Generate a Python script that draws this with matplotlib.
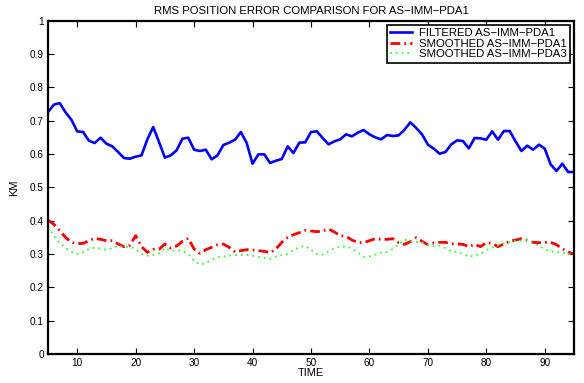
import matplotlib
matplotlib.use("Agg")
import matplotlib.pyplot as plt
import numpy as np

time = list(range(5, 96))

filtered_pda1 = [
    0.726, 0.748, 0.753, 0.725, 0.703, 0.668, 0.666, 0.640, 0.633, 0.649,
    0.631, 0.623, 0.606, 0.588, 0.586, 0.592, 0.596, 0.644, 0.681, 0.636,
    0.589, 0.596, 0.611, 0.646, 0.649, 0.613, 0.609, 0.613, 0.584, 0.596,
    0.627, 0.634, 0.643, 0.666, 0.633, 0.571, 0.599, 0.599, 0.573, 0.580,
    0.585, 0.623, 0.603, 0.634, 0.635, 0.666, 0.668, 0.648, 0.629, 0.638,
    0.644, 0.659, 0.653, 0.664, 0.672, 0.659, 0.650, 0.644, 0.657, 0.654,
    0.656, 0.673, 0.695, 0.678, 0.659, 0.628, 0.616, 0.601, 0.606, 0.629,
    0.641, 0.639, 0.617, 0.648, 0.647, 0.643, 0.668, 0.643, 0.669, 0.669,
    0.638, 0.609, 0.625, 0.613, 0.628, 0.616, 0.569, 0.549, 0.571, 0.546,
    0.546]

smoothed_pda1 = [
    0.402, 0.389, 0.370, 0.350, 0.335, 0.331, 0.332, 0.340, 0.347, 0.344,
    0.340, 0.340, 0.330, 0.322, 0.326, 0.355, 0.322, 0.305, 0.314, 0.314,
    0.330, 0.318, 0.324, 0.338, 0.347, 0.315, 0.302, 0.313, 0.320, 0.328,
    0.330, 0.320, 0.306, 0.310, 0.313, 0.312, 0.310, 0.308, 0.304, 0.315,
    0.335, 0.350, 0.358, 0.364, 0.371, 0.369, 0.367, 0.369, 0.375, 0.366,
    0.355, 0.353, 0.342, 0.335, 0.334, 0.340, 0.346, 0.344, 0.344, 0.346,
    0.334, 0.329, 0.337, 0.349, 0.338, 0.328, 0.333, 0.335, 0.335, 0.331,
    0.330, 0.329, 0.322, 0.329, 0.322, 0.334, 0.332, 0.322, 0.330, 0.338,
    0.342, 0.346, 0.341, 0.335, 0.334, 0.335, 0.335, 0.328, 0.316, 0.306,
    0.300]

smoothed_pda3 = [
    0.382, 0.355, 0.332, 0.318, 0.307, 0.300, 0.305, 0.315, 0.319, 0.317,
    0.312, 0.318, 0.325, 0.321, 0.322, 0.315, 0.300, 0.295, 0.297, 0.302,
    0.318, 0.309, 0.311, 0.309, 0.300, 0.280, 0.268, 0.273, 0.283, 0.290,
    0.292, 0.295, 0.297, 0.297, 0.297, 0.295, 0.292, 0.288, 0.285, 0.292,
    0.297, 0.301, 0.312, 0.320, 0.325, 0.312, 0.300, 0.298, 0.308, 0.317,
    0.322, 0.322, 0.317, 0.305, 0.292, 0.293, 0.298, 0.304, 0.306, 0.315,
    0.330, 0.343, 0.338, 0.336, 0.335, 0.327, 0.323, 0.325, 0.318, 0.308,
    0.307, 0.300, 0.292, 0.296, 0.300, 0.312, 0.319, 0.326, 0.332, 0.336,
    0.339, 0.340, 0.342, 0.333, 0.325, 0.314, 0.308, 0.306, 0.305, 0.300,
    0.298]

series_labels = ["FILTERED AS\u2212IMM\u2212PDA1", "SMOOTHED AS\u2212IMM\u2212PDA1",
                 "SMOOTHED AS\u2212IMM\u2212PDA3"]
title = "RMS POSITION ERROR COMPARISON FOR AS\u2212IMM\u2212PDA1"
xticks = [10, 20, 30, 40, 50, 60, 70, 80, 90]
yticks = [0, 0.1, 0.2, 0.3, 0.4, 0.5, 0.6, 0.7, 0.8, 0.9, 1]
ytick_labels = ["0", "0.1", "0.2", "0.3", "0.4", "0.5", "0.6", "0.7", "0.8", "0.9", "1"]

plt.rcParams['font.family'] = ['Liberation Sans', 'DejaVu Sans']

fig = plt.figure(figsize=(5.84, 3.83), dpi=100)
ax = fig.add_axes([48/584, 1-354/383, (574-48)/584, (354-20.7)/383])

ax.plot(time, filtered_pda1, color='#0000ff', lw=1.9, label=series_labels[0])
ax.plot(time, smoothed_pda1, color='#ff0000', lw=2.0, linestyle=(0, (3.5, 1.5, 0.6, 1.5)),
        label=series_labels[1])
ax.plot(time, smoothed_pda3, color='#33ff33', lw=1.3, linestyle=(0, (1, 2.2)),
        label=series_labels[2])

ax.set_xlim(5, 95)
ax.set_ylim(0, 1)
ax.set_xticks(xticks)
ax.set_yticks(yticks)
ax.set_yticklabels(ytick_labels)
ax.tick_params(direction='in', top=True, right=True, length=4, width=0.8,
               labelsize=7.2, pad=3)
for s in ax.spines.values():
    s.set_linewidth(1.6)
    s.set_color('black')

ax.set_title(title, fontsize=8.2, pad=5)
ax.set_xlabel("TIME", fontsize=8, labelpad=0)
ax.set_ylabel("KM", fontsize=8, labelpad=8)

leg = ax.legend(loc='upper right', fontsize=8.2, frameon=True, fancybox=False,
                framealpha=1, edgecolor='black', borderaxespad=0.35,
                handlelength=1.9, handletextpad=0.6, labelspacing=0.05,
                borderpad=0.3)
leg.get_frame().set_linewidth(1.2)

fig.savefig("out.png", dpi=100)
